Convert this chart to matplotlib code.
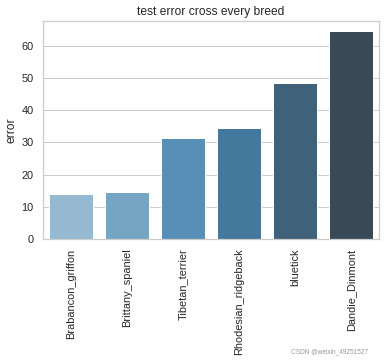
import matplotlib
matplotlib.use("Agg")
import matplotlib.pyplot as plt
import seaborn as sns
import pandas as pd

breeds = ["Brabancon_griffon", "Brittany_spaniel", "Tibetan_terrier",
          "Rhodesian_ridgeback", "bluetick", "Dandie_Dinmont"]
errors = [13.9, 14.6, 31.4, 34.5, 48.6, 64.5]

sns.set_theme(style="whitegrid", context="notebook")
plt.rcParams['font.family'] = ['Liberation Sans', 'DejaVu Sans']
df = pd.DataFrame({"breed": breeds, "error": errors})

fig = plt.figure(figsize=(384 / 72, 362 / 72), dpi=72)
ax = fig.add_axes([43 / 384, 1 - 239 / 362, 336 / 384, 218 / 362])
sns.barplot(data=df, x="breed", y="error", hue="breed", palette="Blues_d",
            legend=False, ax=ax)
ax.set_title("test error cross every breed")
ax.set_xlabel("")
ax.set_ylabel("error")
plt.setp(ax.get_xticklabels(), rotation=90)

fig.text(368 / 384, 1 - 355 / 362, "CSDN @weixin_49251527", ha="right",
         va="bottom", fontsize=6.5, color="#999999")

fig.savefig("out.png", dpi=72)
